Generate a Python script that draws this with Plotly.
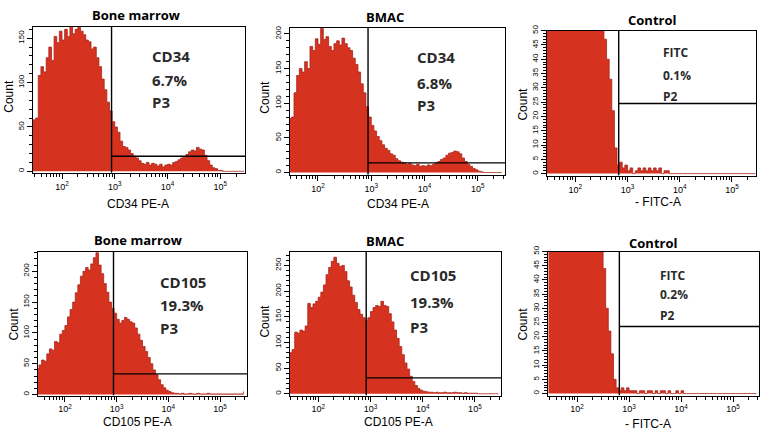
import plotly.graph_objects as go

W, H = 765, 434

# log10 bin start positions: 1.45, 1.50, ..., 5.45 (81 bins)
BIN_START = 1.45
BIN_STEP = 0.05

bm_cd34 = [58, 60, 108, 118, 112, 128, 140, 125, 152, 145, 158, 148, 160, 152, 166, 155, 160, 165, 158, 154,
           148, 146, 138, 140, 128, 118, 104, 92, 78, 68, 56, 50, 44, 34, 28, 27, 24, 20, 17, 15,
           12, 9, 8, 10, 7, 9, 8, 6, 8, 5, 7, 8, 7, 10, 11, 13, 15, 17, 19, 22,
           24, 23, 27, 25, 24, 18, 12, 7, 4, 3, 1, 1, 0, 0, 0, 0, 0, 0, 0, 0, 0]
bmac_cd34 = [78, 80, 115, 140, 150, 145, 160, 150, 182, 176, 193, 185, 208, 192, 196, 182, 176, 186, 190, 184,
             194, 186, 180, 176, 165, 156, 145, 128, 115, 95, 80, 68, 60, 52, 46, 40, 35, 32, 27, 25,
             20, 17, 15, 14, 12, 13, 11, 10, 12, 9, 10, 9, 11, 10, 12, 14, 16, 19, 21, 25,
             28, 29, 31, 30, 27, 21, 16, 12, 9, 6, 4, 2, 1, 0, 0, 0, 0, 0, 0, 0, 0]
ctrl_top = [120, 180, 240, 300, 350, 400, 430, 450, 440, 420, 390, 350, 300, 250, 200, 160, 130, 105, 85, 70,
            60, 54, 47, 40, 33, 22, 9, 3, 4, 2, 3, 1, 2, 0, 1, 2, 1, 2, 1, 2,
            1, 2, 1, 2, 0, 1, 1, 0, 0, 0, 0, 0, 0, 0, 0, 0, 0, 0, 0, 0,
            0, 0, 0, 0, 0, 0, 0, 0, 0, 0, 0, 0, 0, 0, 0, 0, 0, 0, 0, 0, 0]
bm_cd105 = [42, 48, 56, 54, 66, 74, 72, 86, 84, 98, 104, 112, 126, 138, 150, 165, 178, 192, 200, 206,
            202, 212, 222, 230, 210, 196, 180, 166, 150, 140, 132, 122, 116, 120, 125, 122, 118, 116, 108, 98,
            88, 78, 70, 60, 50, 40, 32, 24, 16, 11, 7, 5, 3, 2, 2, 1, 2, 1, 1, 2,
            1, 1, 2, 1, 1, 1, 2, 1, 1, 1, 1, 1, 1, 1, 1, 1, 1, 1, 1, 1, 5]
bmac_cd105 = [80, 86, 120, 118, 124, 122, 132, 176, 168, 175, 180, 188, 198, 212, 232, 246, 258, 266, 254, 248,
              250, 238, 220, 208, 192, 178, 164, 155, 148, 142, 148, 160, 168, 172, 170, 180, 172, 170, 156, 140,
              124, 108, 92, 76, 60, 48, 34, 24, 16, 10, 7, 5, 4, 3, 3, 2, 3, 2, 2, 3,
              2, 2, 2, 3, 2, 2, 1, 2, 1, 1, 1, 1, 0, 0, 0, 0, 0, 0, 0, 0, 0]
ctrl_bottom = [150, 210, 270, 330, 380, 420, 450, 460, 450, 420, 380, 330, 280, 230, 180, 140, 110, 90, 75, 65,
               55, 44, 30, 22, 14, 5, 2, 1, 2, 1, 2, 1, 1, 1, 0, 1, 1, 0, 1, 1,
               0, 1, 0, 1, 1, 0, 1, 0, 0, 1, 0, 1, 0, 0, 0, 0, 0, 0, 0, 0,
               0, 0, 0, 0, 0, 0, 0, 0, 0, 0, 0, 0, 0, 0, 0, 0, 0, 0, 0, 0, 0]

titles = ["Bone marrow", "BMAC", "Control", "Bone marrow", "BMAC", "Control"]
markers = ["CD34", "CD34", "FITC", "CD105", "CD105", "FITC"]
percents = ["6.7%", "6.8%", "0.1%", "19.3%", "19.3%", "0.2%"]
gates = ["P3", "P3", "P2", "P3", "P3", "P2"]
xlabels = ["CD34 PE-A", "CD34 PE-A", "- FITC-A", "CD105 PE-A", "CD105 PE-A", "- FITC-A"]
gate_x = [870, 870, 680, 870, 830, 650]
gate_y = [17, 14, 24.5, 33.5, 31, 23.6]
series = [bm_cd34, bmac_cd34, ctrl_top, bm_cd105, bmac_cd105, ctrl_bottom]

# layout (pixels)
panels = [
    dict(px=(33, 245), py=(21, 169), xr=(1.45, 5.47), yr=(-1.5, 163), dt=50, mdt=10,
         title=(136, 9), txt=(150, [51, 75, 97], 15), xl=(138, 201), cnt=(9, 92)),
    dict(px=(290, 505), py=(22, 171), xr=(1.475, 5.51), yr=(-3, 209), dt=50, mdt=10,
         title=(385, 11), txt=(415, [52, 78, 100], 15), xl=(398, 201), cnt=(265, 93)),
    dict(px=(547, 756), py=(25, 172), xr=(1.46, 5.46), yr=(-0.7, 50), dt=5, mdt=1,
         title=(652, 14), txt=(661, [47, 70, 92], 12), xl=(658, 199), cnt=(523, 100)),
    dict(px=(38, 247), py=(249, 395), xr=(1.48, 5.52), yr=(-1.6, 232), dt=50, mdt=10,
         title=(138, 237), txt=(158, [280, 303, 327], 15), xl=(137, 422), cnt=(14, 323)),
    dict(px=(290, 501), py=(249, 395), xr=(1.46, 5.50), yr=(-3.5, 277), dt=50, mdt=10,
         title=(385, 238), txt=(408, [273, 300, 326], 15), xl=(398, 422), cnt=(265, 320)),
    dict(px=(548, 759), py=(249, 395), xr=(1.44, 5.50), yr=(-0.7, 50), dt=5, mdt=1,
         title=(653, 240), txt=(658, [273, 293, 314], 12), xl=(648, 424), cnt=(523, 323)),
]

FILL = "#d5321f"
EDGE = "#a8231a"
TXT = "#2a2a2a"

major_x = [1e2, 1e3, 1e4, 1e5]
major_txt = ["10<sup>2</sup>", "10<sup>3</sup>", "10<sup>4</sup>", "10<sup>5</sup>"]
minor_x = [k * 10 ** n for n in range(1, 6) for k in range(2, 10)]

fig = go.Figure()
layout = dict(width=W, height=H, autosize=False, margin=dict(l=0, r=0, t=0, b=0, pad=0),
              paper_bgcolor="white", plot_bgcolor="white", showlegend=False)
annotations = []

def fx(p):
    return p / W

def fy(p):
    return 1 - p / H

for i, p in enumerate(panels):
    n = i + 1
    xa = "x" if n == 1 else f"x{n}"
    ya = "y" if n == 1 else f"y{n}"
    counts = series[i]
    xs = [10 ** (BIN_START + BIN_STEP * j) for j in range(len(counts))]
    fig.add_trace(go.Scatter(x=xs, y=counts, mode="lines", xaxis=xa, yaxis=ya,
                             line=dict(shape="hv", color=EDGE, width=0.8),
                             fill="tozeroy", fillcolor=FILL, hoverinfo="skip"))
    xmax = 10 ** p["xr"][1]
    # gate: vertical line, then horizontal line to the right edge
    fig.add_trace(go.Scatter(x=[gate_x[i], gate_x[i]], y=[p["yr"][0], p["yr"][1]], mode="lines",
                             xaxis=xa, yaxis=ya, line=dict(color="black", width=1.4), hoverinfo="skip"))
    fig.add_trace(go.Scatter(x=[gate_x[i], xmax], y=[gate_y[i], gate_y[i]], mode="lines",
                             xaxis=xa, yaxis=ya, line=dict(color="black", width=1.4), hoverinfo="skip"))

    xkey = "xaxis" if n == 1 else f"xaxis{n}"
    ykey = "yaxis" if n == 1 else f"yaxis{n}"
    layout[xkey] = dict(
        domain=[fx(p["px"][0]), fx(p["px"][1])], anchor=ya, type="log", range=list(p["xr"]),
        tickmode="array", tickvals=major_x, ticktext=major_txt, ticks="outside", ticklen=5,
        tickwidth=1.2, tickcolor="black", showgrid=False, zeroline=False,
        showline=True, linecolor="black", linewidth=1.3, mirror=True,
        tickfont=dict(family="Liberation Sans, Arial", size=9, color="black"),
        minor=dict(tickmode="array", tickvals=minor_x, ticks="outside", ticklen=3,
                   tickwidth=1, tickcolor="black", showgrid=False),
    )
    layout[ykey] = dict(
        domain=[fy(p["py"][1]), fy(p["py"][0])], anchor=xa, range=list(p["yr"]),
        tickmode="linear", tick0=0, dtick=p["dt"], ticks="outside", ticklen=5, tickwidth=1.2,
        tickcolor="black", tickangle=-90, showgrid=False, zeroline=False,
        showline=True, linecolor="black", linewidth=1.3, mirror=True,
        tickfont=dict(family="Liberation Sans, Arial", size=8, color="black"),
        minor=dict(dtick=p["mdt"], tick0=0, ticks="outside", ticklen=3, tickwidth=1,
                   tickcolor="black", showgrid=False),
    )

    annotations.append(dict(x=fx(p["title"][0]), y=fy(p["title"][1]), xref="paper", yref="paper",
                            text=f"<b>{titles[i]}</b>", showarrow=False, xanchor="center", yanchor="middle",
                            font=dict(family="Open Sans", size=13, color="black")))
    tx, tys, ts = p["txt"]
    for t, ty in zip([markers[i], percents[i], gates[i]], tys):
        annotations.append(dict(x=fx(tx), y=fy(ty), xref="paper", yref="paper", text=f"<b>{t}</b>",
                                showarrow=False, xanchor="left", yanchor="middle",
                                font=dict(family="Open Sans", size=ts, color=TXT)))
    annotations.append(dict(x=fx(p["xl"][0]), y=fy(p["xl"][1]), xref="paper", yref="paper",
                            text=xlabels[i], showarrow=False, xanchor="center", yanchor="middle",
                            font=dict(family="Liberation Sans, Arial", size=12, color="black")))
    annotations.append(dict(x=fx(p["cnt"][0]), y=fy(p["cnt"][1]), xref="paper", yref="paper",
                            text="Count", textangle=-90, showarrow=False, xanchor="center", yanchor="middle",
                            font=dict(family="Liberation Sans, Arial", size=12, color="black")))

layout["annotations"] = annotations
fig.update_layout(**layout)
fig.write_html("out.html", config={"displayModeBar": False},
               default_width="765px", default_height="434px",
               post_script="document.body.style.margin='0';document.body.style.overflow='hidden';")
